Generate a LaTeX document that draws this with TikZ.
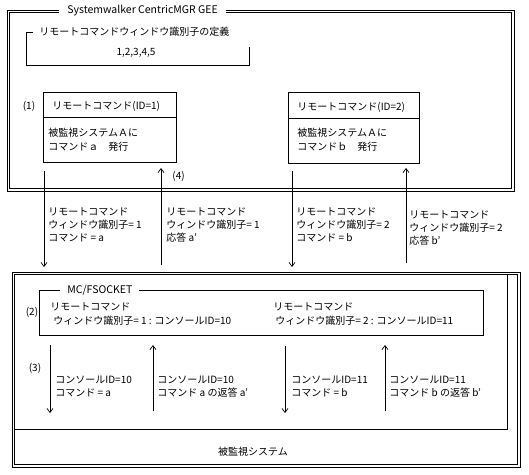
\documentclass[tikz,border=0pt]{standalone}
\usepackage{fontspec}
\setmainfont{Noto Sans CJK JP}
\usetikzlibrary{arrows.meta}
\begin{document}
\begin{tikzpicture}[x=1pt,y=-1pt, line width=0.8pt,
  txt/.style={anchor=west, inner sep=0pt, font=\fontsize{10}{13}\selectfont},
  ctxt/.style={anchor=center, inner sep=0pt, font=\fontsize{10}{13}\selectfont},
  boxn/.style={draw, anchor=north west, inner sep=0pt},
  arr/.style={-{Straight Barb[length=4pt,width=6pt,line width=0.7pt]}},
]
\useasboundingbox (0,0) rectangle (529,474);
\fill[white] (0,0) rectangle (529,474);

% ---- top system box (double line) ----
\draw (7,10) rectangle (514,191);
\draw (9.8,12.6) rectangle (511.6,188.4);
\node[txt, fill=white, inner xsep=8pt, inner ysep=3pt, font=\fontsize{10.5}{13}\selectfont] (title) at (59,10.5) {Systemwalker CentricMGR GEE};

% definition bracket box
\draw (249,47) -- (249,65) -- (26,65) -- (26,32) -- (33,32);
\node[txt] (deft) at (39,32) {リモートコマンドウィンドウ識別子の定義};
\node[ctxt] (defv) at (136,53) {1,2,3,4,5};

% remote command boxes
\node[boxn, minimum width=133pt, minimum height=70pt] (box1) at (43,92) {};
\draw (43,117) -- (176,117);
\node[txt] (b1t) at (52,106) {リモートコマンド(ID=1)};
\node[txt] (b1a) at (48,133) {被監視システムＡに};
\node[txt] (b1b) at (48,147) {コマンドａ　発行};
\node[ctxt] (n1) at (29,106) {(1)};

\node[boxn, minimum width=131pt, minimum height=71pt] (box2) at (288,92) {};
\draw (288,118) -- (419,118);
\node[txt] (b2t) at (297,107) {リモートコマンド(ID=2)};
\node[txt] (b2a) at (297,133) {被監視システムＡに};
\node[txt] (b2b) at (297,147) {コマンドｂ　発行};

% arrows between top and bottom
\coordinate (a1s) at (44,171); \coordinate (a1e) at (44,267);
\coordinate (a2s) at (161,265); \coordinate (a2e) at (161,168);
\coordinate (a3s) at (292,171); \coordinate (a3e) at (292,267);
\coordinate (a4s) at (406,263); \coordinate (a4e) at (406,168);
\draw[arr] (a1s) -- (a1e);
\draw[arr] (a2s) -- (a2e);
\draw[arr] (a3s) -- (a3e);
\draw[arr] (a4s) -- (a4e);
\node[txt] (n4) at (172,176) {(4)};

\node[txt] (l1a) at (48,212) {リモートコマンド};
\node[txt] (l1b) at (48,225) {ウィンドウ識別子= 1};
\node[txt] (l1c) at (48,238) {コマンド = a};
\node[txt] (l2a) at (166,212) {リモートコマンド};
\node[txt] (l2b) at (166,225) {ウィンドウ識別子= 1};
\node[txt] (l2c) at (166,238) {応答  a’};
\node[txt] (l3a) at (296,212) {リモートコマンド};
\node[txt] (l3b) at (296,225) {ウィンドウ識別子= 2};
\node[txt] (l3c) at (296,238) {コマンド = b};
\node[txt] (l4a) at (409,215) {リモートコマンド};
\node[txt] (l4b) at (409,228) {ウィンドウ識別子= 2};
\node[txt] (l4c) at (409,241) {応答  b’};

% ---- bottom monitored system ----
\draw (12,272) rectangle (520,467);
\draw (14.6,274.6) rectangle (517.4,464.4);
\draw (14.6,274.6) rectangle (507,429);
\node[ctxt] (mon) at (253,452) {被監視システム};

% MC/FSOCKET box
\draw (39,290) rectangle (483,335);
\node[txt, fill=white, inner xsep=7pt, inner ysep=3pt, font=\fontsize{10.5}{13}\selectfont] (mct) at (60,290) {MC/FSOCKET};
\node[ctxt] (n2) at (32,312) {(2)};
\node[txt] (m1a) at (50,307) {リモートコマンド};
\node[txt] (m1b) at (53,321) {ウィンドウ識別子= 1 : コンソールID=10};
\node[txt] (m2a) at (273,307) {リモートコマンド};
\node[txt] (m2b) at (275,321) {ウィンドウ識別子= 2 : コンソールID=11};

% lower arrows
\coordinate (c1s) at (50,345); \coordinate (c1e) at (50,413);
\coordinate (c2s) at (153,411); \coordinate (c2e) at (153,345);
\coordinate (c3s) at (285,346); \coordinate (c3e) at (285,413);
\coordinate (c4s) at (385,411); \coordinate (c4e) at (385,345);
\draw[arr] (c1s) -- (c1e);
\draw[arr] (c2s) -- (c2e);
\draw[arr] (c3s) -- (c3e);
\draw[arr] (c4s) -- (c4e);
\node[ctxt] (n3) at (35,368) {(3)};

\node[txt] (k1a) at (55,380) {コンソールID=10};
\node[txt] (k1b) at (55,393) {コマンド = a};
\node[txt] (k2a) at (157,380) {コンソールID=10};
\node[txt] (k2b) at (157,393) {コマンド  a の返答 a’};
\node[txt] (k3a) at (291,380) {コンソールID=11};
\node[txt] (k3b) at (291,393) {コマンド = b};
\node[txt] (k4a) at (389,380) {コンソールID=11};
\node[txt] (k4b) at (389,393) {コマンド  b の返答 b’};
\end{tikzpicture}
\end{document}
